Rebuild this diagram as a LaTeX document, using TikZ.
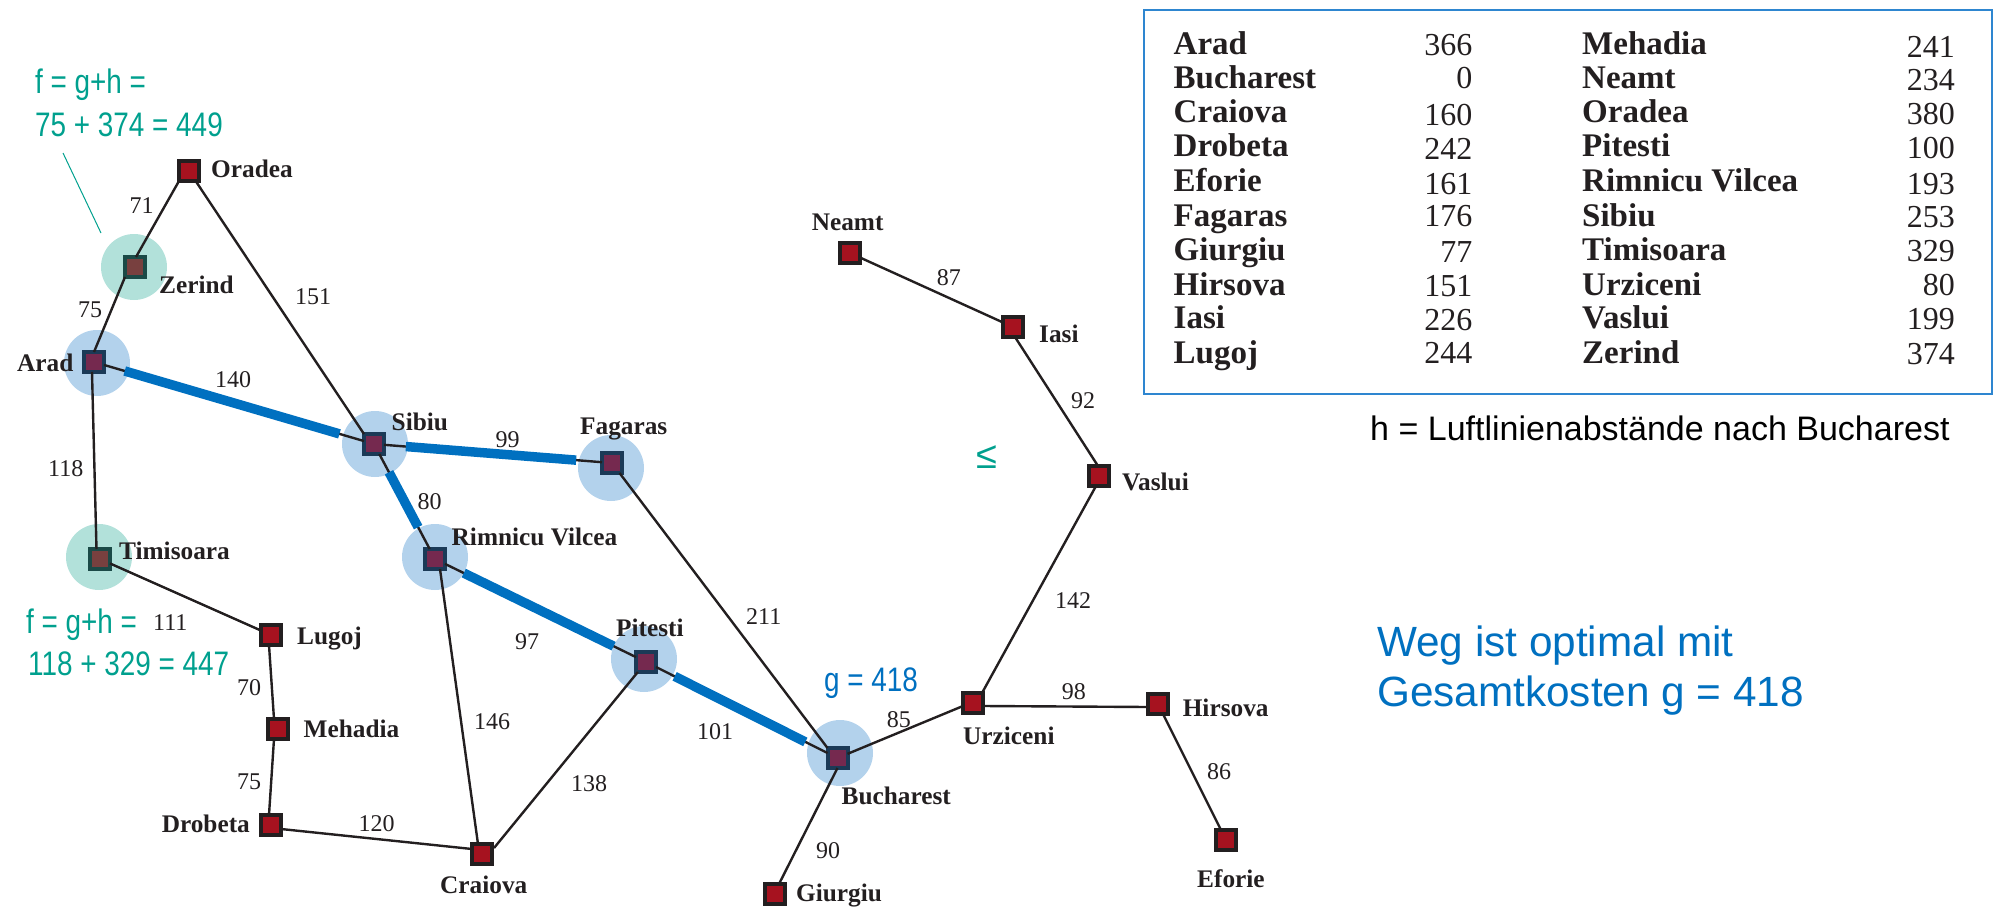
\documentclass[tikz,border=0pt]{standalone}
\usepackage{fontspec}
\setmainfont{Liberation Serif}
\newfontfamily\annotfont[FakeStretch=0.82]{Liberation Sans}
\newfontfamily\plainsans{Liberation Sans}
\definecolor{inkc}{HTML}{231F20}
\definecolor{cityred}{HTML}{A6121F}
\definecolor{pathblue}{HTML}{0070C0}
\definecolor{circblue}{HTML}{B3D2EC}
\definecolor{circteal}{HTML}{B2E1DA}
\definecolor{annotteal}{HTML}{00A08E}
\definecolor{framec}{HTML}{2E86D0}
\definecolor{sqblue}{HTML}{75294F}
\definecolor{sqblueb}{HTML}{1B3A57}
\definecolor{sqteal}{HTML}{78403F}
\definecolor{sqtealb}{HTML}{1B4A47}
\tikzset{
  cityplain/.style={draw=inkc,fill=cityred,line width=4pt,minimum size=20pt,inner sep=0pt,rectangle,outer sep=0pt},
  cityblue/.style={cityplain,draw=sqblueb,fill=sqblue},
  cityteal/.style={cityplain,draw=sqtealb,fill=sqteal},
  halob/.style={circle,fill=circblue,minimum size=66pt,inner sep=0pt},
  halot/.style={circle,fill=circteal,minimum size=66pt,inner sep=0pt},
  road/.style={draw=inkc,line width=2.4pt},
  best/.style={draw=pathblue,line width=9.5pt,shorten <=32pt,shorten >=36pt},
  citylab/.style={anchor=base west,inner sep=0pt,text=inkc,font=\fontsize{25.3}{30}\selectfont\bfseries},
  edgelab/.style={anchor=base west,inner sep=0pt,text=inkc,font=\fontsize{24}{28}\selectfont},
  tabname/.style={anchor=base west,inner sep=0pt,text=inkc,font=\fontsize{33}{34}\selectfont\bfseries},
  tabval/.style={anchor=base east,inner sep=0pt,text=inkc,font=\fontsize{32}{34}\selectfont},
  annot/.style={anchor=base west,inner sep=0pt,font=\fontsize{34}{36}\selectfont\annotfont},
  bigblue/.style={anchor=base west,inner sep=0pt,text=pathblue,font=\fontsize{42.3}{48}\selectfont\plainsans}
}
\begin{document}
\begin{tikzpicture}[x=1pt,y=-1pt]
\useasboundingbox (0,0) rectangle (2005,923);
% halos
\node[halot] (hzer) at (134,267) {};
\node[halot] (htim) at (99,557) {};
\node[halob] (hara) at (97,363) {};
\node[halob] (hsib) at (375,444) {};
\node[halob] (hfag) at (611,468) {};
\node[halob] (hrim) at (435,557) {};
\node[halob] (hpit) at (644,659) {};
\node[halob] (hbuc) at (840,753) {};
% cities
\node[cityplain] (ora) at (189,171) {};
\node[cityteal] (zer) at (135,267) {};
\node[cityblue] (ara) at (94,362) {};
\node[cityblue] (sib) at (374,444) {};
\node[cityblue] (fag) at (612,463) {};
\node[cityteal] (tim) at (100,559) {};
\node[cityblue] (rim) at (435,559) {};
\node[cityplain] (lug) at (271,635) {};
\node[cityplain] (meh) at (278,729) {};
\node[cityplain] (dro) at (271,825) {};
\node[cityplain] (cra) at (482,854) {};
\node[cityblue] (pit) at (646,662) {};
\node[cityplain] (nea) at (850,253) {};
\node[cityplain] (ias) at (1013,327) {};
\node[cityplain] (vas) at (1099,476) {};
\node[cityplain] (urz) at (973,703) {};
\node[cityplain] (hir) at (1158,704) {};
\node[cityplain] (efo) at (1226,840) {};
\node[cityblue] (buc) at (837.5,758) {};
\node[cityplain] (giu) at (775,894) {};
% roads
\draw[road] (ora.south west)--([xshift=1pt]zer.north);
\draw[road] (zer.south west)--(ara.north);
\draw[road] (ora)--(sib.north west);
\draw[road] (ara)--(sib);
\draw[road] ([xshift=-2pt]ara.south)--([xshift=-3.5pt]tim.north);
\draw[road] (sib)--(fag);
\draw[road] (sib)--(rim);
\draw[road] (tim)--(lug);
\draw[road] ([xshift=-2pt]lug.south)--([xshift=-4pt]meh.north);
\draw[road] ([xshift=-4pt]meh.south)--([xshift=-2pt]dro.north);
\draw[road] ([yshift=-4pt]dro.east)--([yshift=5pt]cra.west);
\draw[road] ([xshift=5pt]rim.south)--([xshift=-4pt]cra.north);
\draw[road] (rim)--(pit);
\draw[road] (pit)--([shift={(2pt,6pt)}]cra.east);
\draw[road] (pit)--(buc);
\draw[road] (fag)--(buc.north west);
\draw[road] (buc)--([yshift=-3pt]urz.west);
\draw[road] (buc.south)--([xshift=4pt]giu.north);
\draw[road] ([yshift=-3pt]urz.east)--([yshift=-3pt]hir.west);
\draw[road] (hir)--(efo);
\draw[road] ([xshift=9pt]urz.north)--([xshift=-3pt]vas.south);
\draw[road] ([xshift=-1pt]vas.north)--([xshift=2pt]ias.south);
\draw[road] (ias)--(nea);
% best path
\draw[best] (ara.center)--(sib.center);
\draw[best] (sib.center)--(fag.center);
\draw[best] (sib.center)--(rim.center);
\draw[best] (rim.center)--(pit.center);
\draw[best] (pit.center)--(buc.center);
% city labels
\foreach \t/\x/\y [count=\i] in {Oradea/211/177,Zerind/159/293,Arad/17/371,Sibiu/391.5/430,Fagaras/580/434,Timisoara/119/559,Rimnicu Vilcea/451.5/545,Pitesti/616/636,Lugoj/297/644,Mehadia/303.5/737,Drobeta/161.6/832,Craiova/440/893,Neamt/811.6/230.7,Iasi/1039/342,Vaslui/1122/490,Urziceni/963/744,Hirsova/1182.6/716.5,Bucharest/841.5/804,Eforie/1197/887.6,Giurgiu/796/901}
  \node[citylab] (cl\i) at (\x,\y) {\t};
% edge labels
\foreach \t/\x/\y [count=\i] in {71/129.5/213,151/295/304,75/78/317,140/215/387,99/495.5/447,118/48/476,111/153/630,80/417.5/509,97/515/649,70/237/695,146/474/729,75/237/789,138/571/791,120/358.5/831,87/936.6/285,92/1071/408,142/1055/608,211/746/624.5,98/1061.6/699,85/886.6/727,101/697/739,86/1207/779.5,90/816/858}
  \node[edgelab] (el\i) at (\x,\y) {\t};
% annotations
\node[annot,text=annotteal] (fa1) at (35,94) {f = g+h =};
\node[annot,text=annotteal] (fa2) at (35,136) {75 + 374 = 449};
\node[annot,text=annotteal] (fb1) at (26,633) {f = g+h =};
\node[annot,text=annotteal] (fb2) at (28,675) {118 + 329 = 447};
\node[annot,text=pathblue] (gl) at (824,691) {g = 418};
\node[anchor=base west,inner sep=0pt,text=annotteal,font=\fontsize{38}{40}\selectfont\plainsans] (le) at (976,468) {≤};
\coordinate (ta) at (63,153);
\coordinate (tb) at (101,233);
\draw[annotteal,line width=1pt] (ta)--(tb);
\node[bigblue] (w1) at (1377,656) {Weg ist optimal mit};
\node[bigblue] (w2) at (1377,706) {Gesamtkosten g = 418};
% table
\node[draw=framec,line width=2pt,minimum width=848pt,minimum height=384pt,inner sep=0pt] (frame) at (1568,202) {};
\foreach \t/\y [count=\i] in {Arad/55,Bucharest/89,Craiova/123,Drobeta/157,Eforie/191,Fagaras/226,Giurgiu/260,Hirsova/295,Iasi/328,Lugoj/363}
  \node[tabname] (ta\i) at (1173.5,\y) {\t};
\foreach \t/\y [count=\i] in {366/56,0/89,160/125.7,242/160,161/194,176/226.7,77/262.7,151/296.7,226/330,244/363}
  \node[tabval] (va\i) at (1472.6,\y) {\t};
\foreach \t/\y [count=\i] in {Mehadia/55,Neamt/89,Oradea/123,Pitesti/157,Rimnicu Vilcea/191,Sibiu/226,Timisoara/260,Urziceni/295,Vaslui/328,Zerind/363}
  \node[tabname] (tb\i) at (1582,\y) {\t};
\foreach \t/\y [count=\i] in {241/58,234/90.7,380/125,100/158,193/194,253/227.7,329/261.7,80/295,199/329,374/364}
  \node[tabval] (vb\i) at (1955,\y) {\t};
\node[anchor=base west,inner sep=0pt,text=black,font=\fontsize{34}{36}\selectfont\plainsans] (hl) at (1370,440) {h = Luftlinienabstände nach Bucharest};
\end{tikzpicture}
\end{document}
